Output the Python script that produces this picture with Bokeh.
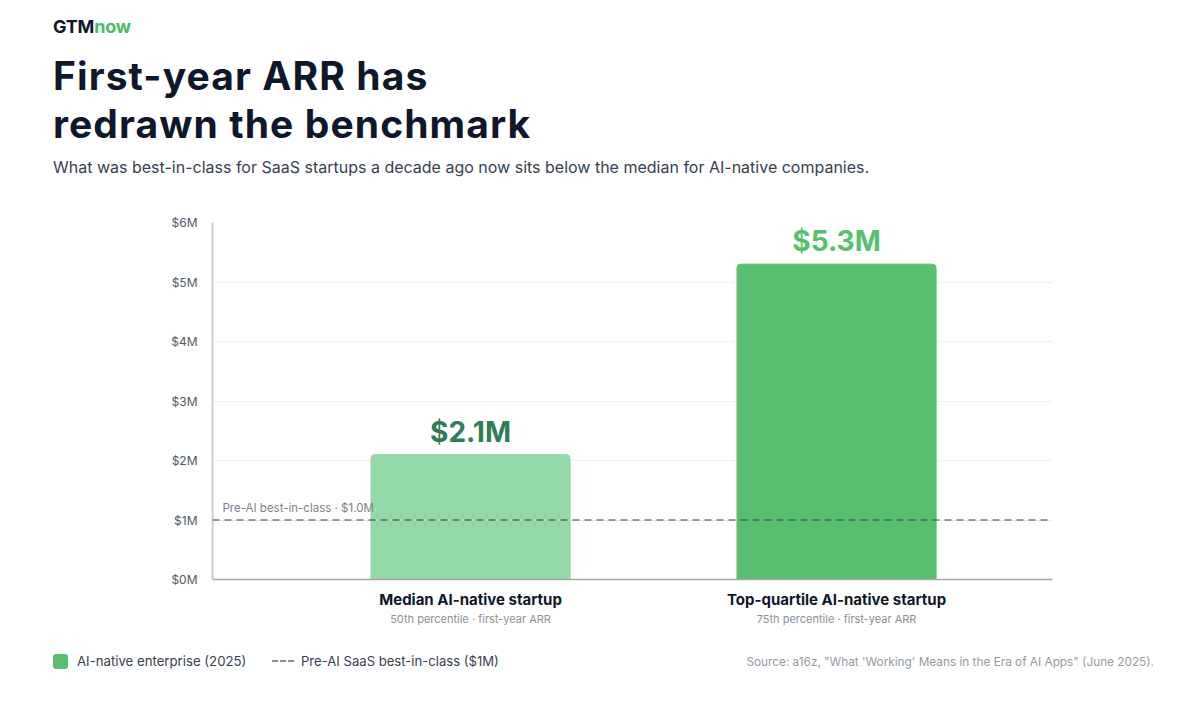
from bokeh.plotting import figure
from bokeh.models import (ColumnDataSource, FixedTicker, LinearAxis, Range1d, Span,
                          Label, Div)
from bokeh.layouts import column
from bokeh.core.properties import value
from bokeh.embed import file_html
from bokeh.resources import INLINE

# ---------------- data ----------------
categories = ["Median AI-native startup", "Top-quartile AI-native startup"]
category_notes = ["50th percentile · first-year ARR", "75th percentile · first-year ARR"]
arr_values = [2.1, 5.3]            # $M first-year ARR
value_labels = ["$2.1M", "$5.3M"]
benchmark = 1.0                    # pre-AI SaaS best-in-class, $M
benchmark_label = "Pre-AI best-in-class · $1.0M"
y_ticks = [0, 1, 2, 3, 4, 5, 6]
y_tick_labels = ["$0M", "$1M", "$2M", "$3M", "$4M", "$5M", "$6M"]

brand = ["GTM", "now"]
title_lines = ["First-year ARR has", "redrawn the benchmark"]
subtitle = "What was best-in-class for SaaS startups a decade ago now sits below the median for AI-native companies."
legend_items = ["AI-native enterprise (2025)", "Pre-AI SaaS best-in-class ($1M)"]
source_text = "Source: a16z, \"What 'Working' Means in the Era of AI Apps\" (June 2025)."

# ---------------- styles ----------------
FONT = "Inter"
bar_colors = ["#94d9a7", "#58bf6f"]
label_colors = ["#2f7d55", "#58bf6f"]
DARK = "#0f172a"
W = 1199
HEADER_H = 200
FIG_H = 440
FOOTER_H = 66

xs = list(range(len(categories)))
source = ColumnDataSource(dict(x=xs, top=arr_values, color=bar_colors,
                               label=value_labels, lcolor=label_colors))

# ---------------- header ----------------
title_style = (f"position:absolute;left:53px;height:47.5px;font-size:39px;letter-spacing:1.1px;"
               f"line-height:47.5px;font-weight:700;color:{DARK};white-space:nowrap;")
header_html = f"""
<div style="position:relative;width:{W}px;height:{HEADER_H}px;font-family:'{FONT}',sans-serif;">
  <div style="position:absolute;left:53px;top:17px;font-size:18px;line-height:20px;font-weight:700;color:{DARK};letter-spacing:-0.2px;">{brand[0]}<span style="color:#4cbb63">{brand[1]}</span></div>
  <div style="{title_style}top:52px;">{title_lines[0]}</div>
  <div style="{title_style}top:99.5px;">{title_lines[1]}</div>
  <div style="position:absolute;left:53px;top:157px;font-size:16px;line-height:20px;color:#374151;white-space:nowrap;">{subtitle}</div>
</div>
"""
header = Div(text=header_html, width=W, height=HEADER_H, margin=(0, 0, 0, 0))

# ---------------- chart ----------------
p = figure(width=W, height=FIG_H, output_backend="svg", toolbar_location=None,
           x_range=Range1d(-0.705, 1.59), y_range=Range1d(0, 6),
           min_border_left=212, min_border_right=W - 1052,
           min_border_top=22, min_border_bottom=FIG_H - 22 - 357,
           x_axis_location=None, y_axis_location=None, margin=(0, 0, 0, 0))
p.outline_line_color = None
p.background_fill_color = "white"
p.border_fill_color = "white"

p.xgrid.visible = False
p.ygrid.ticker = FixedTicker(ticks=y_ticks)
p.ygrid.grid_line_color = "#eeeeee"
p.ygrid.grid_line_width = 1

yax = LinearAxis(ticker=FixedTicker(ticks=y_ticks),
                 major_label_overrides={t: l for t, l in zip(y_ticks, y_tick_labels)})
yax.axis_line_color = "#cfcfcf"
yax.axis_line_width = 2
yax.major_tick_line_color = None
yax.major_tick_out = 0
yax.major_tick_in = 0
yax.minor_tick_line_color = None
yax.major_label_text_font = FONT
yax.major_label_text_font_size = "12px"
yax.major_label_text_color = "#525a66"
yax.major_label_standoff = 15
p.add_layout(yax, "left")

xax = LinearAxis(ticker=FixedTicker(ticks=xs),
                 major_label_overrides={i: c for i, c in zip(xs, categories)})
xax.axis_line_color = "#a8a8a8"
xax.axis_line_width = 1.5
xax.major_tick_line_color = None
xax.major_tick_out = 0
xax.major_tick_in = 0
xax.minor_tick_line_color = None
xax.major_label_text_font = FONT
xax.major_label_text_font_size = "15px"
xax.major_label_text_font_style = "bold"
xax.major_label_text_color = DARK
xax.major_label_standoff = 10
p.add_layout(xax, "below")

xax2 = LinearAxis(ticker=FixedTicker(ticks=xs),
                  major_label_overrides={i: c for i, c in zip(xs, category_notes)})
xax2.axis_line_color = None
xax2.major_tick_line_color = None
xax2.major_tick_out = 0
xax2.major_tick_in = 0
xax2.minor_tick_line_color = None
xax2.major_label_text_font = FONT
xax2.major_label_text_font_size = "11px"
xax2.major_label_text_color = "#8a8f98"
xax2.major_label_standoff = 0
p.add_layout(xax2, "below")

p.vbar(x="x", top="top", bottom=0, width=0.544, color="color", source=source,
       border_radius=(4, 4, 0, 0))

p.text(x="x", y="top", text="label", text_color="lcolor", source=source,
       text_font=value(FONT), text_font_size="28px", text_font_style="bold",
       text_align="center", text_baseline="alphabetic", y_offset=-23)

p.add_layout(Span(location=benchmark, dimension="width", line_color="#2d3748",
                  line_alpha=0.65, line_width=1.5, line_dash="7 5"))
p.add_layout(Label(x=10, y=benchmark, x_units="screen", y_units="data",
                   text=benchmark_label, text_font=FONT, text_font_size="11.5px",
                   text_color="#7d828a", text_baseline="bottom", y_offset=5))

# ---------------- footer ----------------
footer_html = f"""
<div style="position:relative;width:{W}px;height:{FOOTER_H}px;font-family:'{FONT}',sans-serif;">
  <div style="position:absolute;left:53px;top:14px;width:15px;height:15px;border-radius:3px;background:{bar_colors[1]};"></div>
  <div style="position:absolute;left:77px;top:11px;font-size:13.2px;line-height:20px;color:#374151;white-space:nowrap;">{legend_items[0]}</div>
  <div style="position:absolute;left:272px;top:20px;width:6px;height:1.5px;background:#8a8f98;"></div>
  <div style="position:absolute;left:280px;top:20px;width:6px;height:1.5px;background:#8a8f98;"></div>
  <div style="position:absolute;left:288px;top:20px;width:6px;height:1.5px;background:#8a8f98;"></div>
  <div style="position:absolute;left:301px;top:11px;font-size:13.1px;line-height:20px;color:#374151;white-space:nowrap;">{legend_items[1]}</div>
  <div style="position:absolute;right:45px;top:12px;font-size:11.8px;line-height:20px;color:#949aa3;white-space:nowrap;">{source_text}</div>
</div>
"""
footer = Div(text=footer_html, width=W, height=FOOTER_H, margin=(0, 0, 0, 0))

layout = column(header, p, footer, spacing=0, margin=(0, 0, 0, 0))

html = file_html(layout, INLINE)
open("out.html", "w").write(html)
